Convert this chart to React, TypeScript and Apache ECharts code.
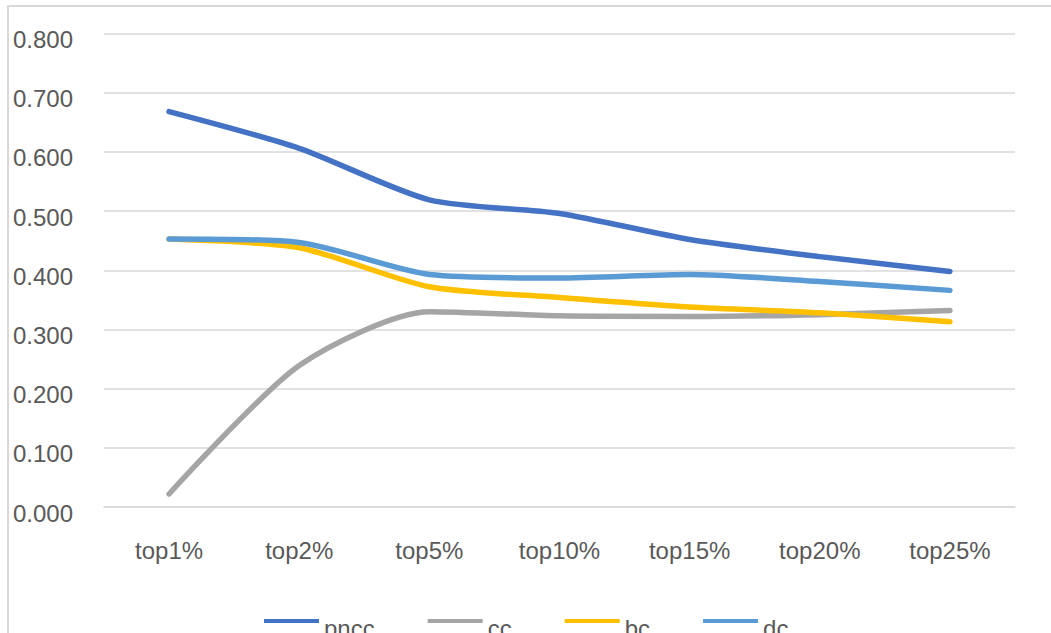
import React, { useEffect, useRef } from "react";
import * as echarts from "echarts";

const categories = ["top1%", "top2%", "top5%", "top10%", "top15%", "top20%", "top25%"];
const seriesNames = ["pncc", "cc", "bc", "dc"];
const pnccValues = [0.668, 0.606, 0.519, 0.496, 0.452, 0.423, 0.398];
const ccValues = [0.022, 0.239, 0.33, 0.323, 0.322, 0.325, 0.332];
const bcValues = [0.453, 0.438, 0.372, 0.354, 0.338, 0.328, 0.313];
const dcValues = [0.453, 0.447, 0.393, 0.387, 0.393, 0.381, 0.366];
const seriesColors = ["#4472C4", "#A5A5A5", "#FFC000", "#5B9BD5"];

const FONT = "'Liberation Sans', Arial, sans-serif";
const TEXT_COLOR = "#595959";
const GRID_COLOR = "#D9D9D9";

export default function App() {
  const ref = useRef<HTMLDivElement>(null);

  useEffect(() => {
    document.body.style.margin = "0";
    const chart = echarts.init(ref.current!, null, { renderer: "svg" });
    const values = [pnccValues, ccValues, bcValues, dcValues];

    chart.setOption({
      animation: false,
      backgroundColor: "#ffffff",
      textStyle: { fontFamily: FONT },
      graphic: [
        {
          type: "rect",
          shape: { x: 8, y: 6, width: 1200, height: 800 },
          style: { fill: "none", stroke: GRID_COLOR, lineWidth: 2 },
          silent: true,
          z: -1,
        },
      ],
      grid: { left: 104, right: 36, top: 33.5, bottom: 633 - 507 },
      xAxis: {
        type: "category",
        data: categories,
        boundaryGap: true,
        axisLine: { show: true, lineStyle: { color: GRID_COLOR, width: 1.5 } },
        axisTick: { show: false },
        axisLabel: { color: TEXT_COLOR, fontSize: 24, fontFamily: FONT, margin: 31 },
      },
      yAxis: {
        type: "value",
        min: 0,
        max: 0.8,
        interval: 0.1,
        axisLine: { show: false },
        axisTick: { show: false },
        splitLine: { lineStyle: { color: GRID_COLOR, width: 1.5 } },
        axisLabel: {
          color: TEXT_COLOR,
          fontSize: 24,
          fontFamily: FONT,
          align: "left",
          margin: 91,
          formatter: (v: number) => `{v|${v.toFixed(3)}}`,
          rich: {
            v: { color: TEXT_COLOR, fontSize: 24, fontFamily: FONT, padding: [12, 0, 0, 0] },
          },
        },
      },
      legend: {
        top: 611.5,
        left: 259,
        itemGap: 53,
        itemWidth: 55,
        itemHeight: 4,
        icon: "rect",
        formatter: (name: string) => `{t|${name}}`,
        textStyle: {
          color: TEXT_COLOR,
          fontSize: 24,
          fontFamily: FONT,
          rich: {
            t: { color: TEXT_COLOR, fontSize: 24, fontFamily: FONT, padding: [15, 0, 0, 0] },
          },
        },
        data: seriesNames,
      },
      series: seriesNames.map((name, i) => ({
        name,
        type: "line",
        data: values[i],
        smooth: 0.25,
        showSymbol: false,
        symbol: "none",
        color: seriesColors[i],
        lineStyle: { width: 5.5, color: seriesColors[i], cap: "round", join: "round" },
        z: 2 + i,
      })),
    });

    return () => chart.dispose();
  }, []);

  return <div ref={ref} style={{ width: 1051, height: 633 }} />;
}
